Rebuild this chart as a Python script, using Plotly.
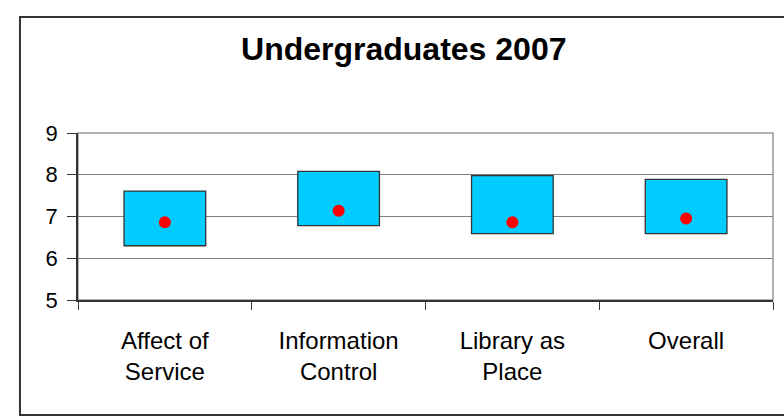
import plotly.graph_objects as go

# Undergraduates 2007 - LibQUAL style range chart
categories = ["Affect of<br>Service", "Information<br>Control", "Library as<br>Place", "Overall"]
minimum = [6.30, 6.78, 6.59, 6.59]
desired = [7.61, 8.08, 7.98, 7.89]
perceived = [6.86, 7.14, 6.86, 6.95]

font = "Liberation Sans, Arial, sans-serif"

fig = go.Figure()

# range boxes (minimum -> desired)
fig.add_trace(go.Bar(
    x=categories,
    y=[d - m for d, m in zip(desired, minimum)],
    base=minimum,
    width=0.47,
    marker=dict(color="#00CCFF", line=dict(color="#333333", width=1.3)),
    hoverinfo="skip",
    showlegend=False,
))

# perceived
fig.add_trace(go.Scatter(
    x=categories,
    y=perceived,
    mode="markers",
    marker=dict(color="#FF0000", size=12),
    showlegend=False,
))

# outer chart border
fig.add_shape(type="rect", xref="paper", yref="paper",
              x0=-0.0835, x1=1.03, y0=-0.689, y1=1.695,
              line=dict(color="#333333", width=2), layer="below")
# plot area border
fig.add_shape(type="rect", xref="paper", yref="paper",
              x0=0, x1=1, y0=0, y1=1,
              line=dict(color="#999999", width=1.5), layer="below")

fig.update_layout(
    width=784, height=417,
    margin=dict(l=78, r=11, t=133, b=117),
    paper_bgcolor="white",
    plot_bgcolor="white",
    font=dict(family=font, color="black"),
    title=dict(text="<b>Undergraduates 2007</b>", font=dict(size=32, family=font),
               xref="container", x=0.515, yref="container", y=0.882,
               xanchor="center", yanchor="middle"),
    bargap=0.53,
)

fig.update_xaxes(
    type="category",
    tickson="boundaries",
    ticks="outside", ticklen=8, tickcolor="#333333",
    showline=True, linecolor="#333333", linewidth=1.5,
    showgrid=False,
    tickfont=dict(size=24),
    ticklabelstandoff=18,
)
fig.update_yaxes(
    range=[5, 9],
    tickvals=[5, 6, 7, 8, 9],
    ticks="outside", ticklen=9, tickcolor="#333333",
    showline=True, linecolor="#333333", linewidth=1.5,
    showgrid=True, gridcolor="#808080", gridwidth=1.2,
    zeroline=False,
    tickfont=dict(size=22),
    ticklabelstandoff=5,
)

fig.write_html("out.html", config={"displayModeBar": False},
               post_script="document.body.style.margin='0';")
